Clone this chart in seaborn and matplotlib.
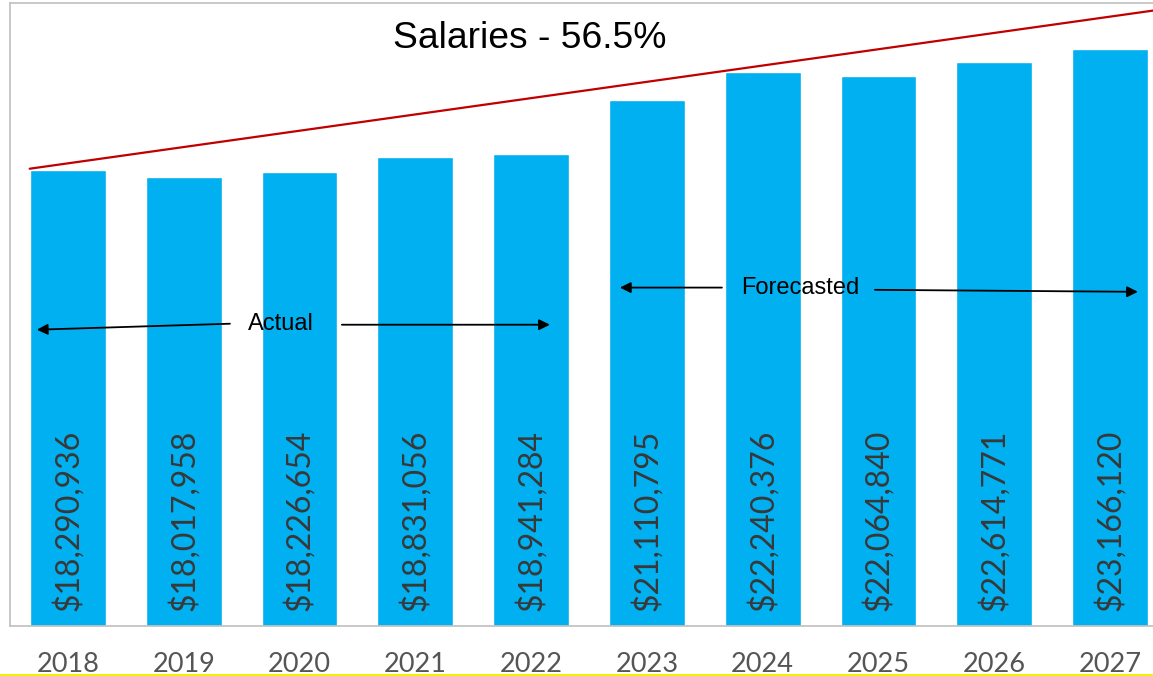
import matplotlib
matplotlib.use("Agg")
import matplotlib.pyplot as plt
from matplotlib.lines import Line2D
import seaborn as sns
import pandas as pd

# Annual salary totals (2018-2022 actual, 2023-2027 forecast)
years = ["2018", "2019", "2020", "2021", "2022", "2023", "2024", "2025", "2026", "2027"]
salaries = [18290936, 18017958, 18226654, 18831056, 18941284,
            21110795, 22240376, 22064840, 22614771, 23166120]
title_text = "Salaries - 56.5%"
actual_label = "Actual"
forecast_label = "Forecasted"

# Trend line endpoints (category index, value)
trend_x = [-0.33, 9.5]
trend_y = [18.35e6, 24.78e6]

df = pd.DataFrame({"year": years, "salary": salaries})

sns.set_theme(style="white")
plt.rcParams["font.family"] = ["Liberation Sans", "DejaVu Sans"]

W, H = 1153, 676
fig = plt.figure(figsize=(W / 100, H / 100), dpi=100)
ax = fig.add_axes([10 / W, 50 / H, 1158 / W, 623 / H])

sns.barplot(data=df, x="year", y="salary", color="#00B0F0", saturation=1,
            width=0.656, ax=ax)

ax.set_xlim(-0.5, 9.5)
ax.set_ylim(0, 25.0e6)
ax.set_xlabel("")
ax.set_ylabel("")
ax.set_yticks([])
ax.tick_params(axis="x", length=0, pad=19, labelsize=19.5, labelcolor="#555555")
for lbl in ax.get_xticklabels():
    lbl.set_fontfamily("Lato")

for side in ["left", "top", "bottom", "right"]:
    ax.spines[side].set_color("#bfbfbf")
    ax.spines[side].set_linewidth(1.2)

# Rotated value labels inside each bar
for i, v in enumerate(salaries):
    ax.annotate(f"${v:,.0f}", xy=(i, 0), xytext=(0, 11), textcoords="offset points",
                rotation=90, ha="center", va="bottom", fontsize=23,
                color="#383838", family="Lato")

# Growth trend line
ax.plot(trend_x, trend_y, color="#C00000", lw=1.6, clip_on=False)

ax.text(3.99, 23.57e6, title_text, ha="center", va="center", fontsize=26.8,
        color="black")

arrow = dict(arrowstyle="-|>", color="black", lw=1.3, mutation_scale=16,
             shrinkA=0, shrinkB=0)

# Actual period
ax.text(1.839, 12.13e6, actual_label, ha="center", va="center", fontsize=17, color="black")
ax.annotate("", xy=(-0.268, 11.89e6), xytext=(1.399, 12.13e6), arrowprops=arrow)
ax.annotate("", xy=(4.162, 12.09e6), xytext=(2.366, 12.09e6), arrowprops=arrow)

# Forecast period
ax.text(6.321, 13.57e6, forecast_label, ha="center", va="center", fontsize=17, color="black")
ax.annotate("", xy=(4.767, 13.58e6), xytext=(5.648, 13.58e6), arrowprops=arrow)
ax.annotate("", xy=(9.240, 13.41e6), xytext=(6.969, 13.49e6), arrowprops=arrow)

# Yellow rule along the bottom edge
fig.add_artist(Line2D([0, 1], [1.5 / H, 1.5 / H], transform=fig.transFigure,
                      color="#F2F200", lw=2.2))

fig.savefig("out.png", dpi=100)
